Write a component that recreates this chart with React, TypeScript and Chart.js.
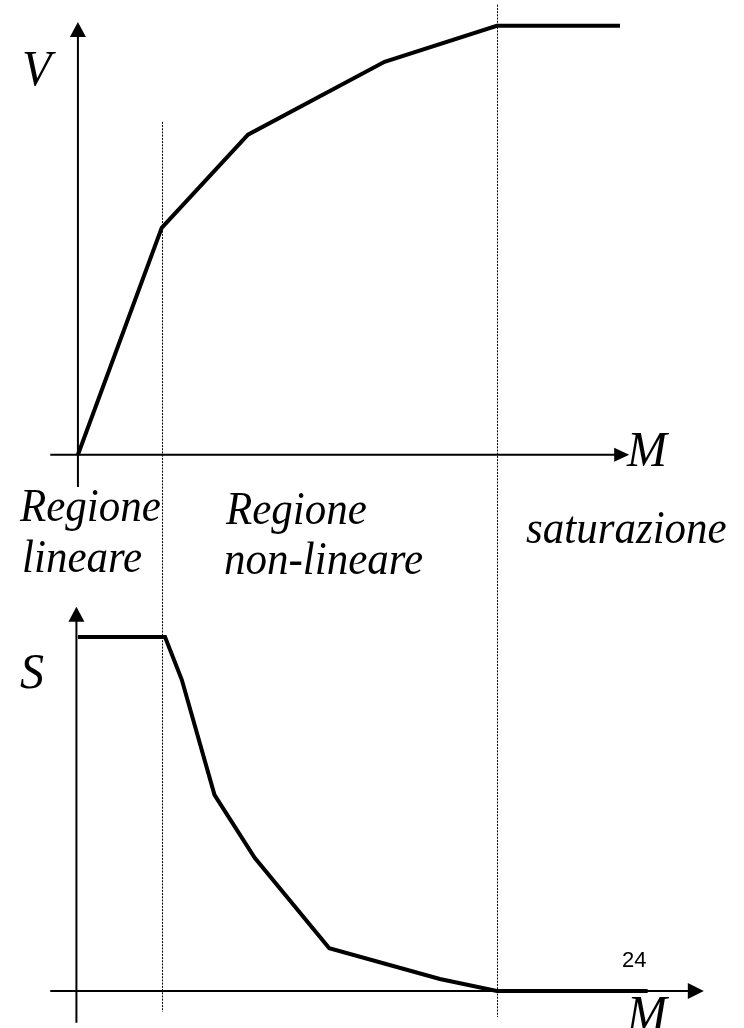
import React, { useEffect, useRef } from "react";
import { Chart, registerables } from "chart.js";

Chart.register(...registerables);

// Upper graph: V as a function of M
const mV = [0, 1, 2.03, 3.66, 5, 6.47];
const vValues = [0, 5.29, 7.46, 9.16, 10, 10];

// Lower graph: S as a function of M
const mS = [0, 1.04, 1.24, 1.63, 2.11, 3.0, 4.32, 5, 6.8];
const sValues = [10, 10, 8.79, 5.54, 3.76, 1.21, 0.34, 0, 0];

// Boundaries between the linear, non-linear and saturation regions
const regionBounds = [1, 5];

// Axis extents (in data units)
const xRange = { min: -0.93, max: 7.95 };
const vRange = { min: -13.36, max: 10.6 };
const sRange = { min: -1.045, max: 27.99 };

const serif = '"Liberation Serif", "Times New Roman", serif';

const toPoints = (xs: number[], ys: number[]) => xs.map((x, i) => ({ x, y: ys[i] }));

function arrow(ctx: CanvasRenderingContext2D, tipX: number, tipY: number, dir: "up" | "right", len = 15, half = 8) {
  ctx.beginPath();
  if (dir === "up") {
    ctx.moveTo(tipX, tipY);
    ctx.lineTo(tipX - half, tipY + len);
    ctx.lineTo(tipX + half, tipY + len);
  } else {
    ctx.moveTo(tipX, tipY);
    ctx.lineTo(tipX - len, tipY - half);
    ctx.lineTo(tipX - len, tipY + half);
  }
  ctx.closePath();
  ctx.fill();
}

// Text drawn slightly taller than the font's natural proportions
function tallText(ctx: CanvasRenderingContext2D, text: string, x: number, y: number, sy = 1.07) {
  ctx.save();
  ctx.translate(x, y);
  ctx.scale(1, sy);
  ctx.fillText(text, 0, 0);
  ctx.restore();
}

const diagramPlugin = {
  id: "diagram",
  beforeDatasetsDraw(chart: any) {
    const { ctx } = chart;
    const x = chart.scales.x;
    const yV = chart.scales.yV;
    const yS = chart.scales.yS;
    ctx.save();

    // dotted region separators
    ctx.strokeStyle = "#000";
    ctx.lineWidth = 1;
    ctx.setLineDash([2, 1.2]);
    const sepTops = [yV.getPixelForValue(7.76), yV.getPixelForValue(10.49)];
    const sepBottoms = [yS.getPixelForValue(-0.59), yS.getPixelForValue(-0.73)];
    regionBounds.forEach((b, i) => {
      const px = Math.round(x.getPixelForValue(b)) + 0.5;
      ctx.beginPath();
      ctx.moveTo(px, sepTops[i]);
      ctx.lineTo(px, sepBottoms[i]);
      ctx.stroke();
    });
    ctx.setLineDash([]);

    // axes
    ctx.strokeStyle = "#000";
    ctx.fillStyle = "#000";
    ctx.lineWidth = 2;

    // upper graph
    const x0 = x.getPixelForValue(0);
    const v0 = yV.getPixelForValue(0);
    ctx.beginPath();
    ctx.moveTo(x.getPixelForValue(-0.33), v0);
    ctx.lineTo(x.getPixelForValue(6.5), v0);
    ctx.moveTo(x0, yV.getPixelForValue(-0.75));
    ctx.lineTo(x0, yV.getPixelForValue(9.9));
    ctx.stroke();
    arrow(ctx, x0, yV.getPixelForValue(10.09), "up");
    arrow(ctx, x.getPixelForValue(6.58), v0, "right", 15, 7);

    // lower graph
    const xs0 = x0 - 1.5;
    const s0 = yS.getPixelForValue(0);
    ctx.beginPath();
    ctx.moveTo(x.getPixelForValue(-0.33), s0);
    ctx.lineTo(x.getPixelForValue(7.35), s0);
    ctx.moveTo(xs0, yS.getPixelForValue(-0.9));
    ctx.lineTo(xs0, yS.getPixelForValue(10.6));
    ctx.stroke();
    arrow(ctx, xs0, yS.getPixelForValue(10.85), "up");
    arrow(ctx, x.getPixelForValue(7.47), s0, "right", 16, 8);

    ctx.restore();
  },
  afterDatasetsDraw(chart: any) {
    const { ctx } = chart;
    ctx.save();
    ctx.fillStyle = "#000";
    ctx.textBaseline = "alphabetic";
    ctx.textAlign = "left";

    ctx.font = `italic 48px ${serif}`;
    tallText(ctx, "V", 22, 85);
    tallText(ctx, "S", 20, 688);
    tallText(ctx, "M", 627, 466);
    tallText(ctx, "M", 627, 1030);

    ctx.font = `italic 43px ${serif}`;
    tallText(ctx, "Regione", 20, 521);
    tallText(ctx, "lineare", 22, 572);
    tallText(ctx, "Regione", 226, 524);
    tallText(ctx, "non-lineare", 224, 574);
    tallText(ctx, "saturazione", 526, 543);

    ctx.font = '22px "Liberation Sans", Arial, sans-serif';
    ctx.fillText("24", 622, 967);
    ctx.restore();
  },
};

export default function App() {
  const canvasRef = useRef<HTMLCanvasElement | null>(null);

  useEffect(() => {
    if (!canvasRef.current) return;
    const chart = new Chart(canvasRef.current, {
      type: "line",
      data: {
        datasets: [
          {
            label: "V",
            data: toPoints(mV, vValues),
            yAxisID: "yV",
            borderColor: "#000",
            borderWidth: 4,
            pointRadius: 0,
            tension: 0,
            fill: false,
          },
          {
            label: "S",
            data: toPoints(mS, sValues),
            yAxisID: "yS",
            borderColor: "#000",
            borderWidth: 4,
            pointRadius: 0,
            tension: 0,
            fill: false,
          },
        ],
      },
      options: {
        animation: false,
        responsive: false,
        maintainAspectRatio: false,
        layout: { padding: 0 },
        plugins: {
          legend: { display: false },
          tooltip: { enabled: false },
          title: { display: false },
        },
        scales: {
          x: { type: "linear", min: xRange.min, max: xRange.max, display: false },
          yV: { type: "linear", min: vRange.min, max: vRange.max, display: false },
          yS: { type: "linear", min: sRange.min, max: sRange.max, display: false },
        },
      },
      plugins: [diagramPlugin],
    });
    return () => chart.destroy();
  }, []);

  return (
    <div style={{ position: "absolute", left: 0, top: 0, width: 744, height: 1028, background: "#fff" }}>
      <canvas ref={canvasRef} width={744} height={1028} style={{ display: "block" }} />
    </div>
  );
}
